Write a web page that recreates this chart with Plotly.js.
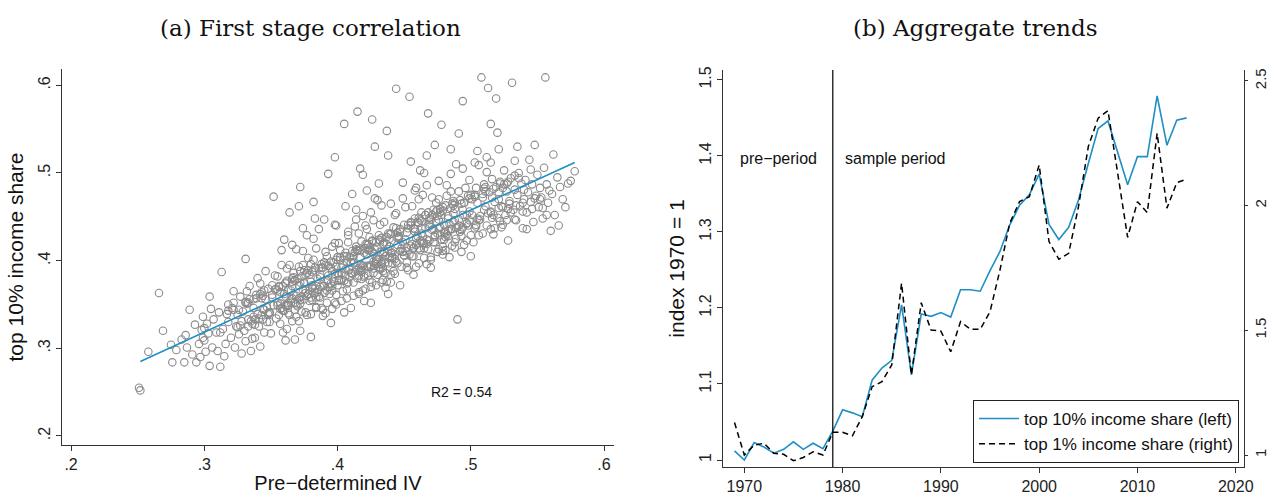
<!DOCTYPE html>
<html>
<head>
<meta charset="utf-8">
<script src="https://cdn.plot.ly/plotly-3.0.1.min.js"></script>
<style>html,body{margin:0;padding:0;background:#fff;}#chart{width:1269px;height:494px;}</style>
</head>
<body>
<div id="chart"></div>
<script>
// ---------- Panel (a): scatter of top 10% income share vs pre-determined IV ----------
const ivX = [
.251,.252,.258,.266,.269,.275,.276,.285,.286,.289,
.279,.283,.291,.293,.296,.298,.294,.299,.287,.297,
.300,.302,.304,.301,.303,.305,.306,.299,.304,.300,
.307,.309,.310,.312,.313,.311,.314,.316,.318,.315,
.318,.320,.321,.322,.323,.324,.325,.326,.327,.328,
.329,.330,.331,.331,.332,.333,.334,.335,.336,.337,
.338,.339,.340,.340,.341,.342,.343,.344,.345,.346,
.334,.336,.328,.322,.317,.338,.344,.332,.326,.342,
.346,.347,.348,.349,.350,.351,.352,.352,.353,.354,
.355,.356,.357,.358,.359,.360,.361,.362,.363,.364,
.365,.366,.367,.368,.369,.370,.371,.372,.373,.374,
.355,.358,.361,.364,.367,.370,.373,.376,.379,.382,
.375,.376,.377,.378,.379,.380,.381,.382,.383,.384,
.385,.386,.387,.388,.389,.390,.391,.392,.393,.394,
.395,.396,.397,.398,.399,.400,.360,.363,.366,.369,
.372,.375,.378,.381,.384,.387,.390,.393,.396,.399,
.357,.362,.368,.374,.380,.386,.392,.398,.371,.383,
.359,.365,.377,.389,.395,.374,.380,.368,.392,.386,
.356,.361,.366,.371,.376,.381,.386,.391,.396,.400,
.364,.368,.372,.376,.380,.384,.388,.392,.396,.399,
.401,.402,.403,.404,.405,.406,.407,.408,.409,.410,
.411,.412,.413,.414,.415,.416,.417,.418,.419,.420,
.421,.422,.423,.424,.425,.426,.427,.428,.429,.430,
.431,.432,.433,.434,.435,.436,.437,.438,.439,.440,
.441,.442,.443,.444,.445,.446,.447,.448,.449,.450,
.402,.406,.410,.414,.418,.422,.426,.430,.434,.438,
.404,.408,.412,.416,.420,.424,.428,.432,.436,.440,
.403,.409,.415,.421,.427,.433,.439,.445,.411,.425,
.405,.413,.419,.423,.429,.435,.441,.447,.417,.431,
.401,.407,.417,.425,.431,.437,.443,.449,.421,.433,
.406,.412,.418,.424,.430,.436,.442,.448,.414,.428,
.403,.410,.416,.422,.428,.434,.440,.446,.420,.436,
.408,.415,.427,.432,.439,.444,.419,.426,.438,.447,
.451,.452,.453,.454,.455,.456,.457,.458,.459,.460,
.461,.462,.463,.464,.465,.466,.467,.468,.469,.470,
.471,.472,.473,.474,.475,.476,.477,.478,.479,.480,
.481,.482,.483,.484,.485,.486,.487,.488,.489,.490,
.491,.492,.493,.494,.495,.496,.497,.498,.499,.500,
.452,.456,.460,.464,.468,.472,.476,.480,.484,.488,
.454,.458,.462,.466,.470,.474,.478,.482,.486,.490,
.451,.457,.463,.469,.475,.481,.487,.493,.499,.465,
.453,.459,.465,.471,.477,.483,.489,.495,.473,.485,
.455,.461,.467,.473,.479,.485,.491,.497,.459,.479,
.457,.463,.469,.475,.481,.487,.493,.499,.467,.491,
.458,.464,.470,.476,.482,.488,.494,.500,.462,.476,
.501,.502,.503,.504,.505,.506,.507,.508,.509,.510,
.511,.512,.513,.514,.515,.516,.517,.518,.519,.520,
.521,.522,.523,.524,.525,.526,.527,.528,.529,.530,
.531,.532,.533,.534,.535,.536,.537,.538,.539,.540,
.541,.542,.543,.544,.545,.546,.547,.548,.549,.550,
.551,.552,.553,.554,.555,.556,.557,.558,.559,.560,
.561,.563,.565,.567,.569,.571,.573,.575,.578,.566,
.504,.510,.516,.522,.528,.534,.540,.546,.552,.505,
.512,.518,.524,.530,.536,.542,.548,.554,.520,.535,
.503,.509,.515,.521,.527,.533,.539,.545,.557,.562,
.372,.382,.393,.398,.426,.437,.455,.478,.494,.515,
.331,.335,.339,.343,.347,.351,.355,.359,.363,.367,
.371,.375,.379,.383,.387,.391,.395,.399,.403,.407,
.411,.415,.419,.423,.427,.431,.435,.439,.443,.447,
.451,.455,.459,.463,.467,.471,.475,.479,.483,.487,
.491,.495,.499,.503,.507,.511,.515,.519,.523,.527,
.333,.337,.341,.345,.349,.353,.357,.361,.365,.369,
.373,.377,.381,.385,.389,.393,.397,.401,.405,.409,
.413,.417,.421,.425,.429,.433,.437,.441,.445,.449,
.453,.457,.461,.465,.469,.473,.477,.481,.485,.489,
.493,.497,.501,.505,.509,.513,.517,.521,.525,.529,
.342,.348,.354,.360,.366,.372,.378,.384,.390,.396,
.402,.408,.414,.420,.426,.432,.438,.444,.450,.456,
.462,.468,.474,.480,.486,.492,.498,.504,.510,.516,
.322,.327,.333,.338,.344,.349,.355,.361,.366,.372,
.377,.383,.388,.394,.400,.405,.411,.416,.422,.427,
.433,.438,.444,.450,.455,.461,.466,.472,.477,.483,
.488,.494,.500,.506,.511,.517,.522,.528,.533,.539,
.358,.366,.374,.382,.390,.398,.406,.414,.422,.430,
.362,.371,.380,.389,.398,.407,.416,.425,.434,.443,
.452,.461,.470,.479,.488,.497,.506,.515,.524,.533,
.440,.449,.458,.467,.476,.485,.494,.503,.512,.521,
.312,.318,.325,.331,.337,.343,.349,.356,.362,.368,
.418,.424,.429,.435,.441,.446,.452,.457,.463,.469,
.395,.401,.407,.412,.418,.423,.429,.434,.440,.445,
.345,.351,.357,.363,.369,.375,.381,.387,.393,.399
];
const top10Share = [
.255,.252,.296,.363,.320,.304,.284,.284,.315,.344,
.298,.310,.293,.327,.305,.321,.284,.336,.301,.290,
.309,.328,.359,.296,.317,.345,.301,.312,.280,.323,
.333,.318,.297,.279,.387,.341,.322,.305,.350,.291,
.330,.312,.346,.365,.301,.325,.338,.316,.359,.294,
.342,.320,.402,.308,.351,.333,.371,.297,.328,.346,
.312,.357,.339,.380,.325,.302,.364,.345,.318,.388,
.356,.311,.331,.352,.339,.327,.333,.365,.344,.374,
.356,.330,.368,.341,.317,.361,.473,.349,.383,.334,
.352,.371,.328,.395,.343,.362,.309,.377,.340,.455,
.366,.331,.386,.352,.413,.348,.372,.320,.359,.395,
.382,.346,.359,.338,.361,.379,.342,.366,.354,.389,
.374,.341,.429,.362,.384,.313,.355,.401,.368,.346,
.379,.436,.358,.392,.337,.371,.410,.352,.383,.362,
.399,.345,.376,.420,.361,.386,.424,.349,.371,.336,
.388,.356,.403,.372,.347,.381,.363,.394,.371,.350,
.364,.391,.344,.367,.376,.359,.377,.385,.462,.448,
.318,.352,.338,.371,.329,.411,.396,.377,.405,.367,
.338,.374,.357,.393,.363,.369,.391,.340,.416,.372,
.395,.310,.375,.384,.358,.414,.346,.366,.388,.440,
.378,.412,.354,.395,.556,.383,.367,.429,.390,.346,
.401,.375,.439,.389,.570,.362,.412,.395,.451,.381,
.368,.407,.393,.427,.352,.410,.386,.471,.399,.415,
.392,.423,.375,.408,.444,.386,.419,.362,.403,.431,
.409,.388,.452,.596,.397,.425,.372,.414,.489,.406,
.401,.390,.386,.416,.379,.394,.422,.401,.388,.413,
.365,.421,.398,.431,.409,.378,.397,.441,.405,.384,
.392,.404,.380,.419,.408,.396,.425,.418,.476,.455,
.341,.387,.366,.383,.372,.410,.397,.433,.505,.488,
.420,.374,.404,.395,.429,.376,.402,.421,.440,.463,
.409,.360,.422,.412,.384,.398,.438,.393,.447,.530,
.386,.398,.391,.436,.413,.392,.375,.428,.354,.369,
.433,.411,.446,.410,.416,.454,.498,.375,.520,.411,
.424,.398,.441,.587,.417,.462,.405,.436,.393,.428,
.449,.412,.431,.475,.403,.437,.419,.568,.446,.392,
.435,.458,.421,.445,.410,.470,.429,.452,.416,.441,
.463,.430,.448,.404,.479,.436,.454,.421,.510,.333,
.447,.469,.435,.458,.418,.483,.452,.440,.471,.429,
.432,.419,.444,.428,.455,.436,.447,.433,.442,.459,
.407,.448,.423,.452,.401,.466,.424,.486,.417,.438,
.461,.384,.437,.423,.458,.412,.444,.428,.456,.500,
.389,.426,.414,.472,.438,.451,.425,.466,.532,.527,
.444,.470,.396,.429,.461,.436,.479,.443,.483,.407,
.415,.455,.439,.451,.427,.468,.410,.492,.520,.545,
.433,.420,.447,.437,.474,.446,.452,.405,.503,.413,
.452,.421,.475,.439,.466,.509,.447,.609,.431,.487,
.462,.440,.597,.478,.455,.493,.430,.467,.585,.449,
.470,.488,.438,.461,.503,.452,.479,.423,.468,.494,
.603,.458,.481,.446,.475,.500,.462,.488,.437,.470,
.492,.455,.478,.515,.467,.487,.444,.532,.474,.498,
.461,.483,.472,.448,.506,.609,.487,.466,.480,.434,
.476,.452,.495,.484,.470,.461,.488,.491,.502,.440,
.483,.458,.472,.445,.490,.463,.481,.459,.470,.525,
.501,.437,.483,.455,.494,.436,.471,.460,.546,.530,
.437,.472,.512,.478,.446,.514,.456,.504,.452,.521,
.484,.467,.499,.518,.561,.548,.513,.555,.582,.556,
.352,.331,.361,.338,.347,.372,.349,.371,.352,.381,
.357,.389,.366,.392,.370,.395,.374,.401,.378,.405,
.385,.412,.394,.418,.399,.424,.401,.430,.407,.436,
.411,.440,.418,.445,.424,.452,.431,.457,.434,.463,
.440,.466,.446,.473,.451,.479,.456,.484,.462,.488,
.325,.356,.334,.366,.340,.367,.345,.375,.356,.350,
.382,.360,.387,.364,.392,.370,.398,.377,.405,.381,
.410,.388,.414,.393,.421,.398,.427,.404,.432,.410,
.437,.414,.443,.420,.449,.427,.455,.432,.460,.437,
.465,.442,.470,.448,.476,.454,.482,.460,.487,.465,
.362,.339,.368,.343,.380,.351,.389,.358,.398,.366,
.404,.375,.413,.383,.423,.390,.431,.399,.441,.405,
.447,.413,.456,.424,.465,.433,.474,.441,.482,.449,
.344,.326,.352,.333,.360,.340,.366,.349,.376,.355,
.386,.363,.396,.370,.404,.377,.411,.383,.419,.391,
.426,.397,.437,.406,.443,.414,.452,.421,.459,.428,
.466,.438,.475,.446,.484,.452,.490,.459,.497,.466,
.412,.418,.437,.425,.447,.441,.462,.458,.480,.469,
.322,.331,.339,.344,.352,.357,.364,.370,.378,.385,
.392,.397,.404,.411,.415,.423,.429,.436,.441,.447,
.465,.471,.480,.486,.491,.499,.505,.512,.518,.527,
.318,.343,.324,.353,.336,.357,.330,.370,.349,.377,
.389,.415,.396,.421,.403,.427,.415,.437,.422,.442,
.392,.383,.399,.405,.392,.412,.402,.419,.409,.426,
.344,.358,.351,.367,.360,.375,.369,.384,.378,.393
];
// fitted line endpoints
const fitX = [0.252, 0.578];
const fitY = [0.285, 0.512];
const ivTicks = [0.2, 0.3, 0.4, 0.5, 0.6];
const ivTickText = ['.2', '.3', '.4', '.5', '.6'];
const shareTicks = [0.2, 0.3, 0.4, 0.5, 0.6];
const shareTickText = ['.2', '.3', '.4', '.5', '.6'];

// ---------- Panel (b): aggregate trends ----------
const years = [1969,1970,1971,1972,1973,1974,1975,1976,1977,1978,1979,1980,1981,1982,1983,1984,1985,1986,1987,1988,1989,1990,1991,1992,1993,1994,1995,1996,1997,1998,1999,2000,2001,2002,2003,2004,2005,2006,2007,2008,2009,2010,2011,2012,2013,2014,2015];
const top10Index = [1.012,1.000,1.023,1.017,1.009,1.014,1.024,1.014,1.022,1.015,1.038,1.066,1.062,1.057,1.105,1.121,1.131,1.204,1.112,1.192,1.189,1.194,1.188,1.224,1.224,1.222,1.249,1.274,1.309,1.335,1.349,1.376,1.310,1.290,1.306,1.342,1.390,1.436,1.446,1.403,1.362,1.399,1.399,1.479,1.414,1.447,1.450];
const top1Index = [1.130,1.000,1.040,1.047,1.007,1.003,0.977,0.990,1.013,1.000,1.091,1.091,1.077,1.154,1.274,1.294,1.361,1.689,1.321,1.611,1.501,1.497,1.414,1.535,1.504,1.504,1.575,1.740,1.929,2.016,2.036,2.163,1.856,1.785,1.809,1.996,2.237,2.351,2.381,2.130,1.873,2.016,1.972,2.290,1.990,2.092,2.106];
const sampleStartYear = 1979;
const yearTicks = [1970, 1980, 1990, 2000, 2010, 2020];
const leftTicks = [1, 1.1, 1.2, 1.3, 1.4, 1.5];
const leftTickText = ['1', '1.1', '1.2', '1.3', '1.4', '1.5'];
const rightTicks = [1, 1.5, 2, 2.5];
const rightTickText = ['1', '1.5', '2', '2.5'];

const W = 1269, H = 494;
const px = v => v / W;
const py = v => (H - v) / H;

const BLUE = '#1f8fc6';
const AX = '#333333';
const SANS = 'Liberation Sans, Arial, sans-serif';
const tickFont = {family: SANS, size: 16, color: '#222'};
const titleFont = {family: SANS, size: 21, color: '#111'};
const headFont = {family: 'DejaVu Serif, serif', size: 23, color: '#111'};

const traces = [
  {x: ivX, y: top10Share, type: 'scatter', mode: 'markers', xaxis: 'x', yaxis: 'y', showlegend: false,
   marker: {symbol: 'circle-open', size: 7.5, color: '#8a8a8a', line: {width: 1.1, color: '#8a8a8a'}}},
  {x: fitX, y: fitY, type: 'scatter', mode: 'lines', xaxis: 'x', yaxis: 'y', showlegend: false,
   line: {color: BLUE, width: 1.6}},
  {x: years, y: top10Index, type: 'scatter', mode: 'lines', xaxis: 'x2', yaxis: 'y2',
   name: 'top 10% income share (left)', line: {color: BLUE, width: 1.6}},
  {x: years, y: top1Index, type: 'scatter', mode: 'lines', xaxis: 'x2', yaxis: 'y3',
   name: 'top 1% income share (right)', line: {color: '#000', width: 1.5, dash: '6px,4px'}}
];

const baseAxis = {showgrid: false, zeroline: false, showline: true, linecolor: AX, linewidth: 1,
  ticks: 'outside', ticklen: 5, tickcolor: AX, tickfont: tickFont};

const layout = {
  width: W, height: H,
  margin: {l: 0, r: 0, t: 0, b: 0},
  paper_bgcolor: '#fff', plot_bgcolor: '#fff',
  font: {family: SANS, color: '#111'},
  showlegend: true,
  xaxis: Object.assign({}, baseAxis, {domain: [px(62), px(614)], range: [0.1932, 0.6075], anchor: 'y',
    tickmode: 'array', tickvals: ivTicks, ticktext: ivTickText,
    title: {text: 'Pre−determined IV', font: {family: SANS, size: 20, color: '#111'}, standoff: 7}}),
  yaxis: Object.assign({}, baseAxis, {domain: [py(445), py(69)], range: [0.1897, 0.6186], anchor: 'x',
    tickmode: 'array', tickvals: shareTicks, ticktext: shareTickText, tickangle: -90,
    title: {text: 'top 10% income share', font: titleFont, standoff: 6}}),
  xaxis2: Object.assign({}, baseAxis, {domain: [px(723), px(1244)], range: [1967.83, 2020.84], anchor: 'y2',
    tickmode: 'array', tickvals: yearTicks}),
  yaxis2: Object.assign({}, baseAxis, {domain: [py(467), py(70)], range: [0.9908, 1.513], anchor: 'x2',
    tickmode: 'array', tickvals: leftTicks, ticktext: leftTickText, tickangle: -90,
    title: {text: 'index 1970 = 1', font: titleFont, standoff: 6}}),
  yaxis3: Object.assign({}, baseAxis, {overlaying: 'y2', side: 'right', anchor: 'x2', range: [0.9519, 2.544],
    tickmode: 'array', tickvals: rightTicks, ticktext: rightTickText, tickangle: -90, ticklen: 3,
    tickfont: {family: SANS, size: 15, color: '#222'}}),
  legend: {x: px(1239), xanchor: 'right', y: py(463), yanchor: 'bottom', bgcolor: '#fff',
    bordercolor: '#222', borderwidth: 1, font: {family: SANS, size: 17, color: '#111'},
    tracegroupgap: 0, itemwidth: 40},
  shapes: [
    {type: 'line', xref: 'x2', yref: 'y2 domain', x0: sampleStartYear, x1: sampleStartYear, y0: 0, y1: 1,
     line: {color: '#000', width: 1.2}}
  ],
  annotations: [
    {text: '(a) First stage correlation', xref: 'paper', yref: 'paper', x: px(310), y: py(28),
     xanchor: 'center', yanchor: 'middle', showarrow: false, font: headFont},
    {text: '(b) Aggregate trends', xref: 'paper', yref: 'paper', x: px(975), y: py(28),
     xanchor: 'center', yanchor: 'middle', showarrow: false, font: headFont},
    {text: 'R2 = 0.54', xref: 'x', yref: 'y', x: 0.4934, y: 0.250, xanchor: 'center', yanchor: 'middle',
     showarrow: false, font: {size: 14, color: '#111'}},
    {text: 'pre−period', xref: 'x2', yref: 'y2', x: 1973.5, y: 1.397, xanchor: 'center', yanchor: 'middle',
     showarrow: false, font: {size: 16, color: '#111'}},
    {text: 'sample period', xref: 'x2', yref: 'y2', x: 1985.4, y: 1.397, xanchor: 'center', yanchor: 'middle',
     showarrow: false, font: {size: 16, color: '#111'}}
  ],
  hovermode: false
};

Plotly.newPlot('chart', traces, layout, {displayModeBar: false, staticPlot: true});
</script>
</body>
</html>
